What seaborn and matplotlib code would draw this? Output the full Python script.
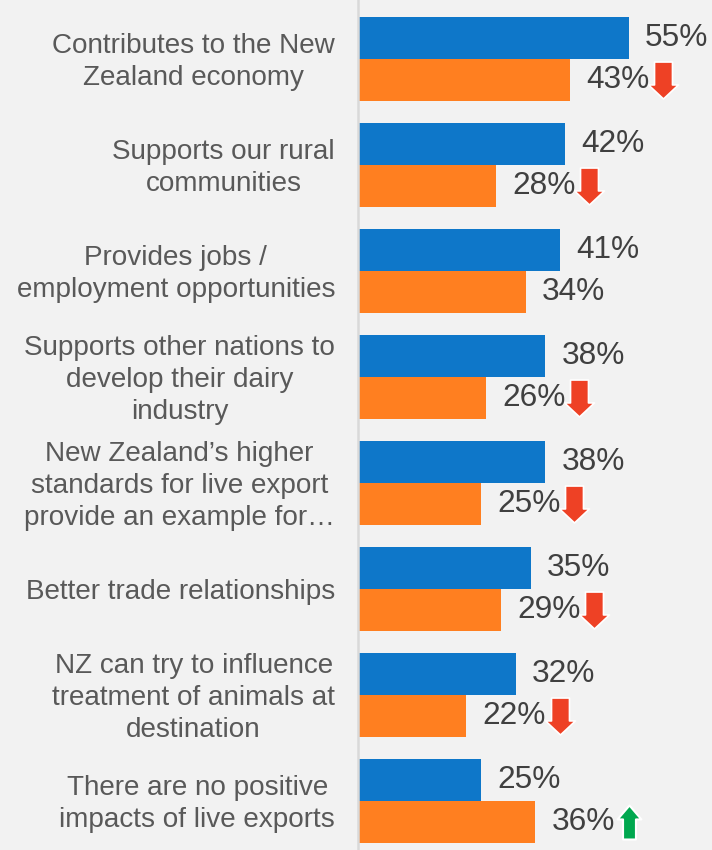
import matplotlib
matplotlib.use("Agg")
import matplotlib.pyplot as plt
import matplotlib.transforms as mtransforms
from matplotlib.path import Path
import seaborn as sns
import pandas as pd

categories = [
    "Contributes to the New\nZealand economy",
    "Supports our rural\ncommunities",
    "Provides jobs /\nemployment opportunities",
    "Supports other nations to\ndevelop their dairy\nindustry",
    "New Zealand\u2019s higher\nstandards for live export\nprovide an example for\u2026",
    "Better trade relationships",
    "NZ can try to influence\ntreatment of animals at\ndestination",
    "There are no positive\nimpacts of live exports",
]
previous = [55, 42, 41, 38, 38, 35, 32, 25]
current = [43, 28, 34, 26, 25, 29, 22, 36]
change = ["down", "down", "", "down", "down", "down", "down", "up"]
series_names = ["Previous", "Current"]
colors = ["#0E77C9", "#FF7F20"]

sns.set_theme(style="white")
plt.rcParams['font.family'] = ['Liberation Sans', 'DejaVu Sans']

df = pd.DataFrame({
    "category": categories * 2,
    "value": previous + current,
    "series": [series_names[0]] * len(categories) + [series_names[1]] * len(categories),
})

BG = "#F2F2F2"
fig = plt.figure(figsize=(7.12, 8.5), dpi=100, facecolor=BG)
ax = fig.add_axes([358 / 712, 0, 1 - 358 / 712, 1])
ax.set_facecolor(BG)

sns.barplot(data=df, y="category", x="value", hue="series", hue_order=series_names,
            palette=colors, orient="h", width=0.792, saturation=1, legend=False,
            order=categories, ax=ax, linewidth=0)

ax.set_xlim(0, 354 / 4.93)
ax.set_ylim(7.462, -0.557)
ax.set_xlabel("")
ax.set_ylabel("")
ax.set_xticks([])
for s in ["top", "right", "bottom"]:
    ax.spines[s].set_visible(False)
ax.spines["left"].set_color("#D9D9D9")
ax.spines["left"].set_linewidth(1.8)
ax.tick_params(axis="y", length=0, pad=16.5, labelsize=20.1, labelcolor="#595959")
shift_up = mtransforms.ScaledTranslation(0, 2.5 / 72, fig.dpi_scale_trans)
for t in ax.get_yticklabels():
    t.set_multialignment("center")
    t.set_linespacing(1.3)
    if "\n" in t.get_text():
        t.set_transform(t.get_transform() + shift_up)

# value labels
for cont in ax.containers:
    for bar in cont:
        w = bar.get_width()
        yc = bar.get_y() + bar.get_height() / 2
        ax.annotate(f"{w:.0f}%", xy=(w, yc), xytext=(11.5, 0), textcoords="offset points",
                    va="center", ha="left", fontsize=22.8, color="#404040")

down_verts = [(-0.243, 0.5), (0.243, 0.5), (0.243, -0.12), (0.405, -0.12), (0, -0.5),
              (-0.405, -0.12), (-0.243, -0.12), (-0.243, 0.5)]
up_verts = [(-0.19, -0.5), (0.19, -0.5), (0.19, 0.09), (0.35, 0.09), (0, 0.5),
            (-0.35, 0.09), (-0.19, 0.09), (-0.19, -0.5)]
down_path = Path(down_verts, closed=True)
up_path = Path(up_verts, closed=True)

offset = mtransforms.offset_copy(ax.transData, fig=fig, x=67, y=0, units="points")
for bar, ch in zip(ax.containers[1], change):
    if not ch:
        continue
    w = bar.get_width()
    yc = bar.get_y() + bar.get_height() / 2
    if ch == "down":
        ax.plot([w], [yc], marker=down_path, markersize=26.6, color="#EE4125",
                markeredgecolor="white", markeredgewidth=1.2, transform=offset, clip_on=False)
    else:
        ax.plot([w], [yc], marker=up_path, markersize=24.5, color="#00A84F",
                markeredgecolor="white", markeredgewidth=1.5, transform=offset, clip_on=False)

fig.savefig("out.png", dpi=100, facecolor=BG)
